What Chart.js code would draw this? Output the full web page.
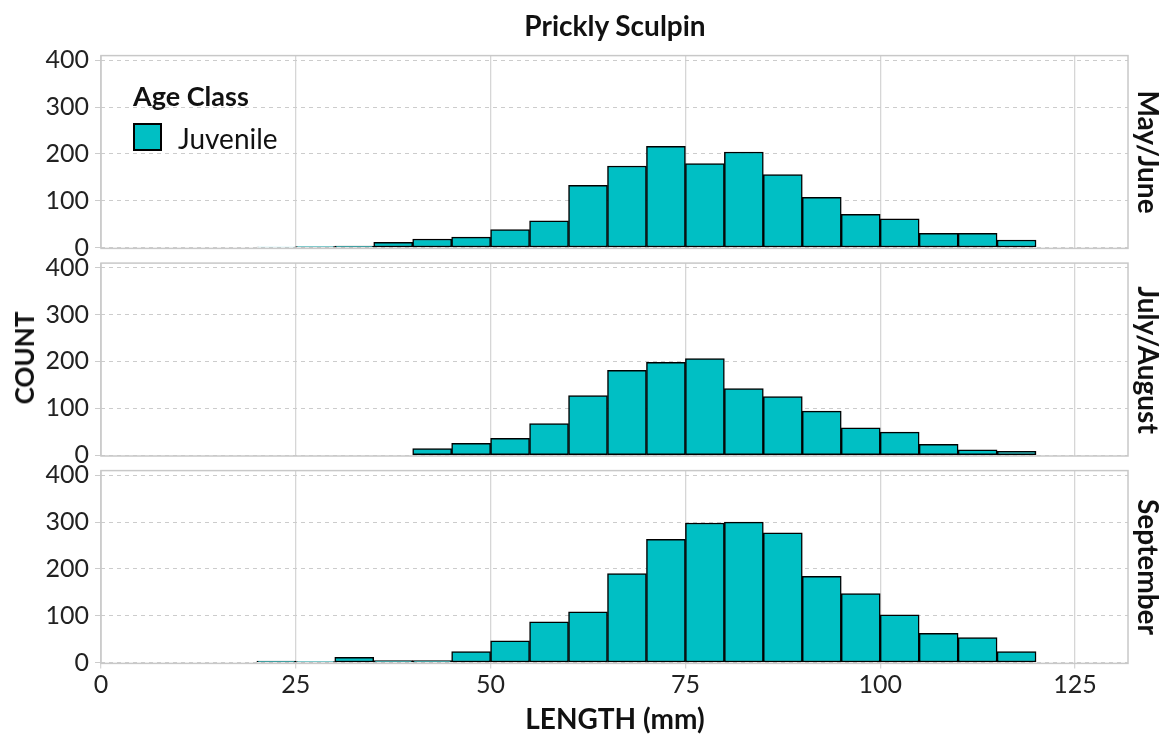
<!DOCTYPE html>
<html>
<head>
    <script src="https://cdn.jsdelivr.net/npm/chart.js"></script>
    <style>
        body { margin: 0; background: #fff; font-family: Lato; }
        #wrap { position: relative; width: 1172px; height: 738px; }
        #wrap canvas { position: absolute; left: 0; top: 0; }
        .lbl { position: absolute; color: #111; white-space: nowrap; line-height: 1; transform: translate(-50%, -50%); }
        .b { font-weight: bold; font-size: 28px; }
        .rot90 { transform: translate(-50%, -50%) rotate(90deg); }
        .rotm90 { transform: translate(-50%, -50%) rotate(-90deg); }
        .swatch { position: absolute; left: 133px; top: 123px; width: 25px; height: 24px; background: #00BFC4; border: 2px solid #000; }
    </style>
</head>
<body>
<div id="wrap">
    <canvas id="p0" width="1172" height="738"></canvas>
    <canvas id="p1" width="1172" height="738"></canvas>
    <canvas id="p2" width="1172" height="738"></canvas>

    <div class="lbl b" style="left:615px; top:25px;">Prickly Sculpin</div>
    <div class="lbl b rotm90" style="left:24px; top:358px; font-size:26px;">COUNT</div>
    <div class="lbl b" style="left:615px; top:718px;">LENGTH (mm)</div>
    <div class="lbl b rot90" style="left:1149px; top:152px;">May/June</div>
    <div class="lbl b rot90" style="left:1149px; top:360px;">July/August</div>
    <div class="lbl b rot90" style="left:1149px; top:567px;">September</div>

    <div class="lbl b" style="left:133px; top:95px; font-size:27px; transform: translate(0, -50%);">Age Class</div>
    <div class="swatch"></div>
    <div class="lbl" style="left:178px; top:138px; font-size:28px; transform: translate(0, -50%);">Juvenile</div>
</div>

<script>
    // bins are 5 mm wide, listed by their lower edge
    const binStarts = [20, 25, 30, 35, 40, 45, 50, 55, 60, 65, 70, 75, 80, 85, 90, 95, 100, 105, 110, 115];
    const mayJune   = [1, 2, 3, 11, 18, 22, 38, 57, 133, 174, 216, 179, 204, 156, 107, 71, 61, 30, 30, 16];
    const julyAug   = [null, null, null, null, 14, 25, 36, 67, 127, 181, 198, 206, 142, 125, 94, 58, 49, 23, 11, 8];
    const september = [3, 2, 11, 4, 4, 23, 46, 87, 108, 190, 263, 298, 300, 277, 184, 147, 102, 62, 53, 23];
    const xTicks = [0, 25, 50, 75, 100, 125];
    const yTicks = [0, 100, 200, 300, 400];

    const panelBorder = {
        id: 'panelBorder',
        afterDraw(chart) {
            const a = chart.chartArea, c = chart.ctx;
            c.save();
            c.strokeStyle = '#c8c8c8';
            c.lineWidth = 1.5;
            c.strokeRect(a.left, a.top, a.right - a.left, a.bottom - a.top);
            c.restore();
        }
    };

    function makePanel(id, counts, top, bottom, showX) {
        new Chart(document.getElementById(id), {
            type: 'bar',
            data: {
                datasets: [{
                    label: 'Juvenile',
                    data: binStarts.map((b, i) => ({ x: b + 2.5, y: counts[i] })),
                    backgroundColor: '#00BFC4',
                    borderColor: '#000000',
                    borderWidth: 1.5,
                    borderSkipped: false,
                    barPercentage: 1,
                    categoryPercentage: 1
                }]
            },
            options: {
                responsive: false,
                animation: false,
                layout: { padding: { top: top, right: 44, left: 0, bottom: 0 } },
                plugins: { legend: { display: false }, tooltip: { enabled: false } },
                scales: {
                    x: {
                        type: 'linear', min: 0, max: 131.8, offset: false,
                        afterBuildTicks: s => { s.ticks = xTicks.map(v => ({ value: v })); },
                        afterFit: s => { s.height = 738 - bottom; },
                        grid: { color: '#d6d6d6', lineWidth: 1.3, offset: false, drawTicks: showX, tickLength: 5 },
                        border: { display: false },
                        ticks: { display: showX, font: { family: 'Lato', size: 25 }, color: '#222', padding: 2, maxRotation: 0, autoSkip: false }
                    },
                    y: {
                        min: -2, max: 410,
                        afterBuildTicks: s => { s.ticks = yTicks.map(v => ({ value: v })); },
                        afterFit: s => { s.width = 101; },
                        grid: { color: '#cccccc', lineWidth: 1, tickLength: 6 },
                        border: { display: false, dash: [4, 4] },
                        ticks: { font: { family: 'Lato', size: 25 }, color: '#222', padding: 6 }
                    }
                }
            },
            plugins: [panelBorder]
        });
    }

    makePanel('p0', mayJune, 55.6, 248.4, false);
    makePanel('p1', julyAug, 263.1, 456, false);
    makePanel('p2', september, 470.6, 663.4, true);
</script>
</body>
</html>
